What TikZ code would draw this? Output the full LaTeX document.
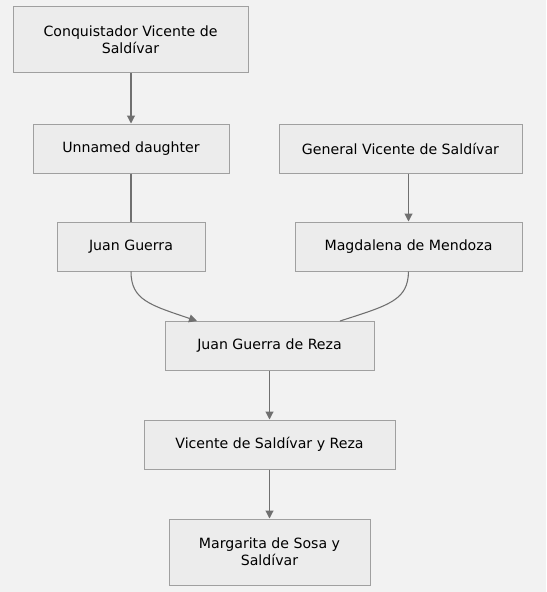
\documentclass[tikz,border=0pt]{standalone}
\usepackage{fontspec}
\setmainfont{DejaVu Sans}
\usetikzlibrary{arrows.meta}
\definecolor{bg}{HTML}{F2F2F2}
\definecolor{nodefill}{HTML}{ECECEC}
\definecolor{nodeline}{HTML}{A0A0A0}
\definecolor{edgecol}{HTML}{707070}
\tikzset{
  box/.style={draw=nodeline, fill=nodefill, line width=0.75pt, inner sep=0pt, align=center,
    font=\fontsize{10.6pt}{13pt}\selectfont, text=black},
  edge/.style={draw=edgecol, line width=0.8pt},
  arr/.style={edge, -{Triangle[length=6pt,width=6pt]}},
}
\begin{document}
\begin{tikzpicture}[x=0.75pt,y=-0.75pt]
\fill[bg] (0,0) rectangle (546,592);
\useasboundingbox (0,0) rectangle (546,592);
\node[box, minimum width=235*0.75pt, minimum height=66*0.75pt] (c) at (130.5,40) {Conquistador Vicente de\\Saldívar};
\node[box, minimum width=196*0.75pt, minimum height=49*0.75pt] (u) at (131,148.5) {Unnamed daughter};
\node[box, minimum width=243*0.75pt, minimum height=49*0.75pt] (g) at (400.5,148.5) {General Vicente de Saldívar};
\node[box, minimum width=148*0.75pt, minimum height=49*0.75pt] (j) at (131,246.5) {Juan Guerra};
\node[box, minimum width=227*0.75pt, minimum height=49*0.75pt] (m) at (408.5,246.5) {Magdalena de Mendoza};
\node[box, minimum width=209*0.75pt, minimum height=49*0.75pt] (r) at (269.5,345.5) {Juan Guerra de Reza};
\node[box, minimum width=251*0.75pt, minimum height=49*0.75pt] (v) at (269.5,444.5) {Vicente de Saldívar y Reza};
\node[box, minimum width=201*0.75pt, minimum height=66*0.75pt] (s) at (269.5,552) {Margarita de Sosa y\\Saldívar};
\coordinate (rl) at (197,321);
\coordinate (rr) at (340,321);
\draw[arr] (u.north |- c.south) -- (u.north);
\draw[edge] (u.south) -- (j.north);
\draw[arr] (m.north |- g.south) -- (m.north);
\draw[arr] (j.south) .. controls (131,300) and (150,305) .. (rl);
\draw[edge] (m.south) .. controls (408,300) and (390,305) .. (rr);
\draw[arr] (r.south) -- (v.north);
\draw[arr] (v.south) -- (s.north);
\end{tikzpicture}
\end{document}
